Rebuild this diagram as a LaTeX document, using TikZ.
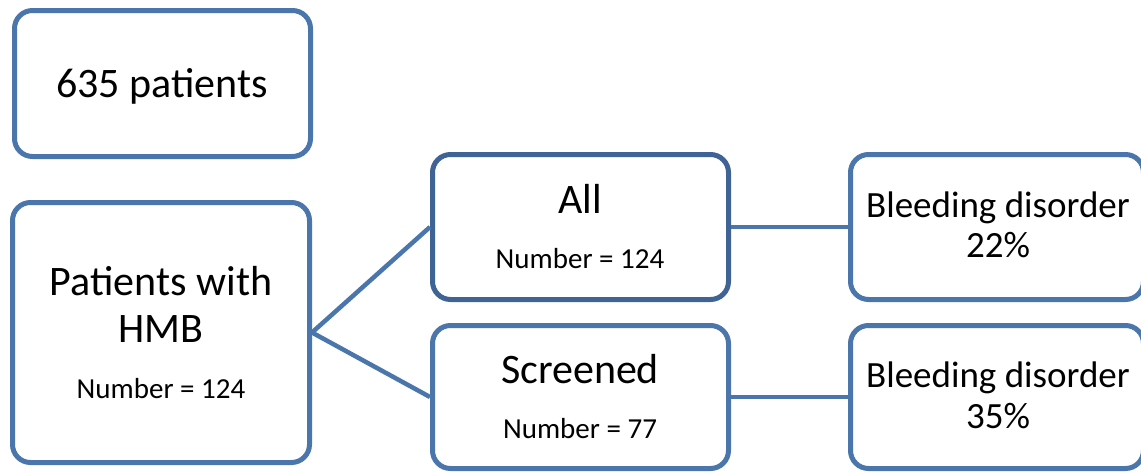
\documentclass[tikz,border=0pt]{standalone}
\usepackage{fontspec}
\setmainfont{Carlito}
\usepackage{tikz}
\usetikzlibrary{positioning}
\usepackage{xcolor}
\definecolor{boxblue}{RGB}{74,118,172}
\definecolor{darkblue}{RGB}{62,99,148}
\tikzset{%
	every box/.style={
		draw=boxblue,
		line width=5pt,
		rounded corners=18pt,
		fill=white,
		minimum width=296pt,
		minimum height=145pt
	},
	box text/.style={
		anchor=base,
		inner sep=0pt,
		font=\fontsize{42}{50}\selectfont
	},
	small text/.style={
		box text,
		font=\fontsize{29}{35}\selectfont
	},
}

\begin{document}
\begin{tikzpicture}[
				x=1pt, y=-1pt,
				link/.style={draw=boxblue, line width=4.5pt}
				]
				\useasboundingbox (0,0) rectangle (1141,474);
				
				\node[every box, minimum height=146pt] (total) at (162.5,83.5) {};
				\node[every box, minimum width=297pt, minimum height=260pt] (hmb) at (161,332.5) {};
				\node[every box, draw=darkblue] (all) at (580.5,227) {};
				\node[every box, minimum height=143pt] (screened) at (580.5,397) {};
				\node[every box, minimum width=293pt] (bd22) at (997,227) {};
				\node[every box, minimum width=293pt, minimum height=143pt] (bd35) at (997,397) {};
				
				\draw[link] (hmb.east) -- (all.west);
				\draw[link] (hmb.east) -- (screened.west);
				\draw[link] (all.east) -- (bd22.west);
				\draw[link] (screened.east) -- (bd35.west);
				
				\node[box text] (totaltxt) at (162,97) {635 patients};
				
				\node[box text] (hmbtxt) at (161,295) {Patients with};
				\node[box text] (hmbtxtb) at (161,342) {HMB};
				\node[small text] (hmbnum) at (161,398) {Number = 124};
				
				\node[box text] (alltxt) at (580,213) {All};
				\node[small text] (allnum) at (580,268) {Number = 124};
				
				\node[box text] (scrtxt) at (580,383) {Screened};
				\node[small text] (scrnum) at (580,438) {Number = 77};
				
				\node[box text, font=\fontsize{37}{44}\selectfont] (bdtxt) at (998,217) {Bleeding disorder};
				\node[box text, font=\fontsize{37}{44}\selectfont] (bdpct) at (998,257) {22\%};
				\node[box text, font=\fontsize{37}{44}\selectfont] (bdtxtb) at (998,387) {Bleeding disorder};
				\node[box text, font=\fontsize{37}{44}\selectfont] (bdpctb) at (998,428) {35\%};
				
			\end{tikzpicture}
\end{document}
